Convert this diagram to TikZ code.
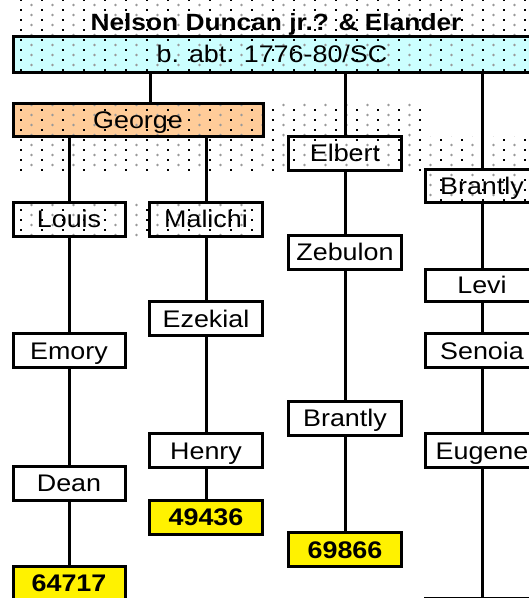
\documentclass[tikz,border=0pt]{standalone}
\usepackage{fontspec}
\setmainfont{Liberation Sans}[FakeStretch=1.12]
\definecolor{rootcyan}{HTML}{CCFFFF}
\definecolor{georgeorange}{HTML}{FFCC99}
\pgfdeclarelayer{bg}
\pgfsetlayers{bg,main}
\newcommand\dotarea[4]{%
  \begin{scope}
    \clip (#1,#2) rectangle (#3,#4);
    \pgfmathtruncatemacro\ia{floor(#1/10.5)}%
    \pgfmathtruncatemacro\ib{ceil(#3/10.5)}%
    \pgfmathtruncatemacro\ja{floor(#2/5)}%
    \pgfmathtruncatemacro\jb{ceil(#4/5)}%
    \foreach \i in {\ia,...,\ib}{%
      \foreach \j in {\ja,...,\jb}{%
        \pgfmathtruncatemacro\dpar{mod(\i+\j,2)}%
        \pgfmathtruncatemacro\dcol{mod(\i,2)}%
        \ifnum\dpar=0
          \ifnum\dcol=0
            \fill[black] ({\i*10.5-1},{\j*5-1}) rectangle ++(2,2);
          \else
            \fill[gray!80] ({\i*10.5},{\j*5}) circle (1.3);
          \fi
        \fi
      }}
  \end{scope}}
\begin{document}
\begin{tikzpicture}[x=1pt,y=-1pt,
  box/.style={draw=black,line width=3pt,minimum width=113pt,minimum height=34pt,
    inner sep=0pt,text height=17pt,text depth=0pt,
    font=\fontsize{24}{24}\selectfont,fill=white},
  dotbox/.style={box,fill=none},
  idbox/.style={box,fill=yellow,font=\fontsize{24}{24}\selectfont\bfseries},
  link/.style={line width=3pt}]
\useasboundingbox (0,0) rectangle (529,598);
\clip (0,0) rectangle (529,598);

% title and top box
\node[font=\fontsize{23.5}{23.5}\selectfont\bfseries,text height=17pt,text depth=0pt,inner sep=0pt] (title) at (276,22) {Nelson Duncan jr.? \& Elander};
\node[dotbox,minimum width=518pt,minimum height=36pt] (root) at (272,54) {b. abt. 1776-80/SC};

% generation 2
\node[dotbox,minimum width=250pt,minimum height=33pt] (george) at (138,119.5) {George};
\node[dotbox] (elbert) at (345,153) {Elbert};
\node[dotbox,minimum height=33pt] (brantlyA) at (482,185.5) {Brantly};

% generation 3
\node[dotbox,minimum width=112pt] (louis) at (69,219) {Louis};
\node[dotbox] (malichi) at (206,219) {Malichi};
\node[box] (zebulon) at (345,252) {Zebulon};
\node[box,minimum height=32pt] (levi) at (482,285) {Levi};

% generation 4
\node[box] (ezekial) at (206,318.5) {Ezekial};
\node[box,minimum width=112pt] (emory) at (69,350.5) {Emory};
\node[box] (senoia) at (482,350.5) {Senoia};

% generation 5
\node[box] (brantlyB) at (345,418) {Brantly};
\node[box] (henry) at (206,450.5) {Henry};
\node[box] (eugene) at (482,450.5) {Eugene};
\node[box,minimum width=112pt] (dean) at (69,483) {Dean};

% ids
\node[idbox] (id49436) at (206,517) {49436};
\node[idbox] (id69866) at (345,549.5) {69866};
\node[idbox,minimum width=112pt] (id64717) at (69,583) {64717};
\node[box] (nextbox) at (482,615) {};

% column coordinates
\coordinate (c1) at (150,0);

% connectors
\draw[link] (root.south -| c1) -- (george.north -| c1);
\draw[link] (root.south -| elbert) -- (elbert.north);
\draw[link] (root.south -| brantlyA) -- (brantlyA.north);
\draw[link] (george.south -| louis) -- (louis.north);
\draw[link] (george.south -| malichi) -- (malichi.north);
\draw[link] (louis) -- (emory);
\draw[link] (emory) -- (dean);
\draw[link] (dean) -- (id64717);
\draw[link] (malichi) -- (ezekial);
\draw[link] (ezekial) -- (henry);
\draw[link] (henry) -- (id49436);
\draw[link] (elbert) -- (zebulon);
\draw[link] (zebulon) -- (brantlyB);
\draw[link] (brantlyB) -- (id69866);
\draw[link] (brantlyA) -- (levi);
\draw[link] (levi) -- (senoia);
\draw[link] (senoia) -- (eugene);
\draw[link] (eugene) -- (nextbox);

% backgrounds
\begin{pgfonlayer}{bg}
  \fill[white] (0,0) rectangle (529,598);
  \fill[rootcyan] (root.south west) rectangle (root.north east);
  \fill[georgeorange] (george.south west) rectangle (george.north east);
  \dotarea{13}{0}{529}{72}
  \dotarea{13}{102}{427}{136}
  \dotarea{13}{136}{529}{170}
  \dotarea{426}{170}{529}{202}
  \dotarea{13}{202}{263}{236}
\end{pgfonlayer}
\end{tikzpicture}
\end{document}
